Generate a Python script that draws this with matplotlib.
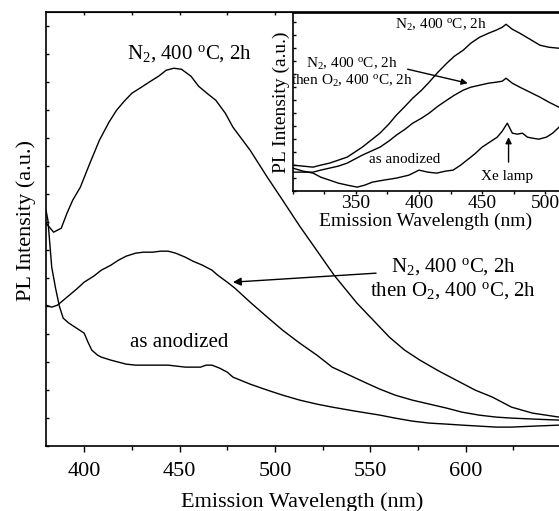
import matplotlib
matplotlib.use("Agg")
import matplotlib.pyplot as plt
from matplotlib.ticker import MultipleLocator, NullFormatter

plt.rcParams['font.family'] = ['Liberation Serif', 'DejaVu Serif']
plt.rcParams['mathtext.fontset'] = 'custom'
plt.rcParams['mathtext.rm'] = 'Liberation Serif'
plt.rcParams['mathtext.it'] = 'Liberation Serif:italic'

# main panel: PL spectra (a.u.)
wl_n2 = [380, 384, 388, 391, 394, 398, 403, 408, 413, 417, 421, 425, 430, 434, 439,
         443, 447, 451, 456, 460, 465, 469, 474, 478, 487, 496, 503, 513, 520, 531,
         543, 552, 560, 568, 576, 586, 595, 605, 614, 624, 635, 649]
pl_n2 = [223, 214, 218, 233, 246, 259, 283, 306, 324, 336, 345, 353, 359, 364, 370,
         376, 378, 377, 370, 360, 352, 346, 333, 319, 296, 269, 249, 220, 201, 171,
         143, 125, 109, 96, 86, 75, 66, 56, 49, 39, 33, 29]

wl_o2 = [380, 383, 386, 391, 396, 400, 405, 409, 414, 418, 422, 427, 431, 436, 440,
         444, 448, 453, 457, 462, 467, 470, 475, 479, 487, 496, 504, 513, 522, 530,
         539, 548, 555, 563, 572, 581, 590, 598, 607, 616, 624, 636, 649]
pl_o2 = [141, 139, 141, 149, 157, 164, 170, 176, 181, 186, 190, 193, 194, 194, 195,
         195, 193, 189, 185, 181, 176, 171, 164, 158, 144, 129, 116, 103, 91, 79,
         71, 63, 57, 51, 46, 42, 38, 34, 31, 29, 28, 27, 26]

wl_an = [380, 381, 383, 385, 387, 389, 392, 396, 400, 402, 404, 407, 409, 414, 418,
         422, 427, 435, 444, 453, 461, 464, 467, 471, 475, 478, 487, 496, 504, 513,
         522, 530, 542, 555, 563, 572, 581, 590, 598, 607, 616, 624, 636, 649]
pl_an = [236, 226, 179, 158, 140, 128, 123, 118, 113, 104, 96, 91, 89, 86, 84,
         82, 81, 81, 81, 79, 79, 81, 81, 78, 74, 69, 62, 56, 51, 46,
         42, 39, 35, 31, 28, 25, 23, 22, 21, 20, 19, 19, 20, 21]

# inset: excitation-range spectra
wl_in = [300, 308, 316, 322, 329, 336, 343, 349, 355, 362, 369, 376, 382, 389, 395,
         402, 408, 415, 422, 428, 435, 441, 448, 455, 461, 466, 469, 474, 480, 488,
         496, 503, 511]
in_n2 = [26, 25, 24, 26, 28, 31, 34, 39, 44, 51, 58, 67, 76, 85, 93,
         101, 109, 119, 128, 135, 141, 148, 154, 158, 161, 164, 167, 162, 158, 152,
         146, 144, 143]
in_o2 = [19, 19, 19, 21, 23, 25, 28, 32, 36, 40, 44, 50, 56, 62, 68,
         73, 78, 85, 91, 96, 101, 104, 106, 108, 109, 110, 113, 108, 104, 99,
         94, 89, 84]
wl_in_an = [300, 308, 316, 322, 329, 336, 343, 351, 357, 363, 372, 382, 392, 400, 407,
            414, 421, 427, 433, 438, 444, 450, 456, 462, 466, 470, 474, 478, 482, 486,
            490, 495, 501, 506, 511]
in_an = [23, 20, 18, 14, 11, 8, 6, 4, 6, 9, 11, 13, 16, 21, 19,
         18, 20, 21, 26, 31, 37, 44, 49, 54, 60, 68, 58, 57, 58, 54,
         53, 52, 54, 58, 64]
in_ticks = [350, 400, 450, 500]

lab_n2 = r'N$_2$, 400 $^{\mathrm{o}}$C, 2h'
lab_o2 = r'N$_2$, 400 $^{\mathrm{o}}$C, 2h' + '\n' + r'then O$_2$, 400 $^{\mathrm{o}}$C, 2h'

fig = plt.figure(figsize=(5.59, 5.11), dpi=100)
ax = fig.add_axes([0.0823, 0.127, 0.918, 0.849])

for x, y in [(wl_n2, pl_n2), (wl_o2, pl_o2), (wl_an, pl_an)]:
    ax.plot(x, y, color='black', lw=1.0)

ax.set_xlim(380, 649)
ax.set_ylim(0, 434)
ax.xaxis.set_major_locator(MultipleLocator(50))
ax.xaxis.set_minor_locator(MultipleLocator(25))
ax.yaxis.set_major_locator(MultipleLocator(28))
ax.yaxis.set_major_formatter(NullFormatter())
ax.tick_params(axis='x', which='major', direction='out', length=4.5, width=1, labelsize=16, pad=7)
ax.tick_params(axis='x', which='minor', direction='out', length=3, width=1)
ax.tick_params(axis='y', which='major', direction='in', length=2.5, width=1)
ax.spines['right'].set_visible(False)
for s in ['left', 'top', 'bottom']:
    ax.spines[s].set_linewidth(1.2)

top = ax.secondary_xaxis('top')
top.xaxis.set_major_locator(MultipleLocator(25))
top.tick_params(direction='in', length=2.5, width=1, labeltop=False)

ax.set_xlabel('Emission Wavelength (nm)', fontsize=16, labelpad=8)
ax.set_ylabel('PL Intensity (a.u.)', fontsize=16)
ax.yaxis.set_label_coords(-0.02, 0.52)

ax.text(455, 393, lab_n2, fontsize=15, ha='center', va='center')
ax.text(593.6, 168, lab_o2, fontsize=15, ha='center', va='center', linespacing=1.2)
ax.annotate('', xy=(478, 164), xytext=(553, 173),
            arrowprops=dict(arrowstyle='-|>', color='black', lw=1.0, mutation_scale=12,
                            shrinkA=0, shrinkB=0))
ax.text(449.6, 104, 'as anodized', fontsize=15, ha='center', va='center')

# inset
ins = fig.add_axes([0.524, 0.626, 0.476, 0.348])
ins.plot(wl_in, in_n2, color='black', lw=1.0)
ins.plot(wl_in, in_o2, color='black', lw=1.0)
ins.plot(wl_in_an, in_an, color='black', lw=1.0)
ins.set_xlim(300, 511)
ins.set_ylim(0, 178)
ins.set_xticks(in_ticks)
ins.xaxis.set_minor_locator(MultipleLocator(25))
ins.yaxis.set_major_locator(MultipleLocator(13))
ins.yaxis.set_major_formatter(NullFormatter())
ins.tick_params(axis='x', which='major', direction='out', length=2.5, width=1, labelsize=14, pad=0.5)
ins.tick_params(axis='x', which='minor', direction='out', length=2, width=1)
ins.tick_params(axis='y', which='major', direction='in', length=2, width=1)
ins.spines['right'].set_visible(False)
for s in ['left', 'top', 'bottom']:
    ins.spines[s].set_linewidth(1.2)
ins.set_xlabel('Emission Wavelength (nm)', fontsize=14, labelpad=0)
ins.set_ylabel('PL Intensity (a.u.)', fontsize=14)
ins.yaxis.set_label_coords(-0.012, 0.5)

ins.text(417, 166, lab_n2, fontsize=11, ha='center', va='center')
ins.text(346.7, 119, lab_o2, fontsize=11, ha='center', va='center', linespacing=1.1)
ins.annotate('', xy=(438.6, 108), xytext=(391, 122),
             arrowprops=dict(arrowstyle='-|>', color='black', lw=1.0, mutation_scale=9,
                             shrinkA=0, shrinkB=0))
ins.text(388.7, 32, 'as anodized', fontsize=11, ha='center', va='center')
ins.text(470.2, 15, 'Xe lamp', fontsize=11, ha='center', va='center')
ins.annotate('', xy=(471, 54), xytext=(471, 29),
             arrowprops=dict(arrowstyle='-|>', color='black', lw=1.0, mutation_scale=9,
                             shrinkA=0, shrinkB=0))

fig.savefig('out.png', dpi=100)
